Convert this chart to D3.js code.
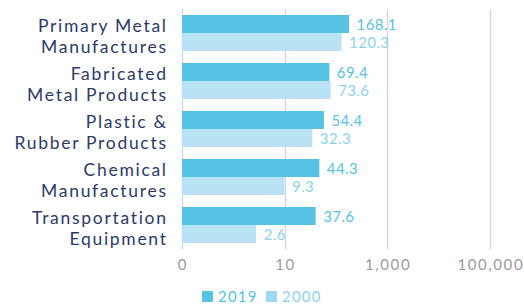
<!DOCTYPE html>
<html><head><meta charset="utf-8">
<script src="https://cdn.jsdelivr.net/npm/d3@7/dist/d3.min.js"></script>
<style>
html,body{margin:0;padding:0;background:#fff;}
svg{display:block;font-family:"Lato","Open Sans",sans-serif;}
</style></head>
<body>
<svg id="chart" width="524" height="304"></svg>
<script>
const categories = [
  ["Primary Metal","Manufactures"],
  ["Fabricated","Metal Products"],
  ["Plastic &","Rubber Products"],
  ["Chemical","Manufactures"],
  ["Transportation","Equipment"]
];
const seriesNames = ["2019","2000"];
const values2019 = [168.1, 69.4, 54.4, 44.3, 37.6];
const values2000 = [120.3, 73.6, 32.3, 9.3, 2.6];
const tickValues = [0.1, 10, 1000, 100000];
const tickLabels = ["0", "10", "1,000", "100,000"];

const barColors = ["#56c3e4", "#b9e2f4"];
const labelColors = ["#56c3e4", "#8dd3ee"];
const legendColors = ["#56c3e4", "#9dd7f0"];

const svg = d3.select("#chart");
const x = d3.scaleLog().domain([0.1, 100000]).range([182, 490]);
const y = d3.scaleBand().domain(d3.range(categories.length)).range([9, 249])
  .paddingInner(0.25).paddingOuter(0.125);
const sub = d3.scaleBand().domain([0,1]).range([0, y.bandwidth()]);

// gridlines
svg.append("g").selectAll("line").data(tickValues).join("line")
  .attr("x1", d => Math.round(x(d)) + 0.5).attr("x2", d => Math.round(x(d)) + 0.5)
  .attr("y1", 9).attr("y2", 249)
  .attr("stroke", "#d6d6ea").attr("stroke-width", 1.5);

// axis labels
svg.append("g").selectAll("text").data(tickValues).join("text")
  .attr("x", d => x(d) + 0.8).attr("y", 270)
  .attr("text-anchor", "middle")
  .attr("font-size", 15).attr("letter-spacing", 1.6).attr("fill", "#9b9b9b")
  .text((d, i) => tickLabels[i]);

const series = [values2019, values2000];
series.forEach((vals, s) => {
  const g = svg.append("g");
  g.selectAll("rect").data(vals).join("rect")
    .attr("x", x(0.1))
    .attr("y", (d, i) => y(i) + sub(s))
    .attr("width", d => x(d) - x(0.1) + 1.5)
    .attr("height", sub.bandwidth())
    .attr("fill", barColors[s]);
  g.selectAll("text").data(vals).join("text")
    .attr("x", d => x(d) + 9)
    .attr("y", (d, i) => y(i) + sub(s) + sub.bandwidth() / 2 + 6)
    .attr("font-size", 15).attr("letter-spacing", 0.4).attr("fill", labelColors[s])
    .text(d => d3.format(".1f")(d));
});

// category labels
const cl = svg.append("g").selectAll("text").data(categories).join("text")
  .attr("text-anchor", "end")
  .attr("font-size", 17.5).attr("letter-spacing", 1.7).attr("fill", "#2c3a6a");
cl.each(function(d, i) {
  const c = y(i) + y.bandwidth() / 2;
  d3.select(this).selectAll("tspan").data(d).join("tspan")
    .attr("x", 167.7).attr("y", (t, j) => c - 1 + j * 21)
    .text(t => t);
});

// legend
const leg = svg.append("g");
const legX = [202, 266];
seriesNames.forEach((n, s) => {
  leg.append("rect").attr("x", legX[s]).attr("y", 291).attr("width", 11).attr("height", 11)
    .attr("fill", legendColors[s]);
  leg.append("text").attr("x", legX[s] + 16).attr("y", 302)
    .attr("font-size", 15).attr("letter-spacing", 1.2).attr("fill", labelColors[s]).text(n);
});
</script>
</body></html>
